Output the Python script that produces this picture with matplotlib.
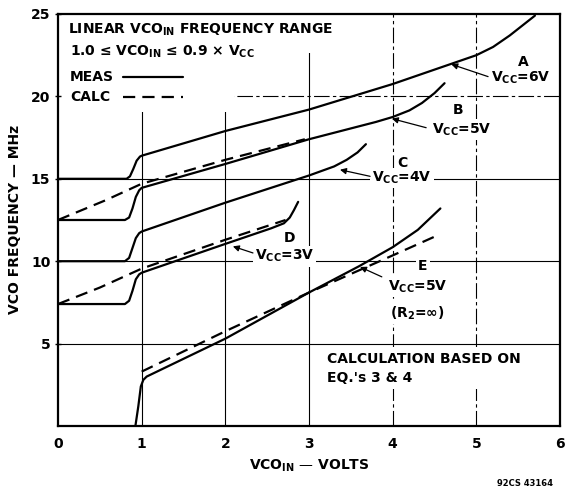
import matplotlib
matplotlib.use("Agg")
import matplotlib.pyplot as plt
from matplotlib.patches import Rectangle

plt.rcParams["font.family"] = ["DejaVu Sans"]
plt.rcParams["font.weight"] = "bold"
plt.rcParams["mathtext.default"] = "bf"

# ---- measured VCO frequency (MHz) vs VCO_IN (V) ----
a_x = [0, 0.82, 0.86, 0.90, 0.94, 0.98, 1.0, 2, 3, 4, 5, 5.2, 5.4, 5.7]
a_y = [15.0, 15.0, 15.15, 15.6, 16.1, 16.35, 16.4, 17.9, 19.2, 20.75, 22.5, 23.0, 23.7, 24.9]

b_x = [0, 0.80, 0.85, 0.89, 0.93, 0.97, 1.0, 2, 3, 3.8, 4.0, 4.2, 4.35, 4.5, 4.62]
b_y = [12.5, 12.5, 12.65, 13.2, 13.9, 14.3, 14.45, 15.9, 17.4, 18.45, 18.75, 19.15, 19.6, 20.2, 20.8]

c_x = [0, 0.80, 0.85, 0.89, 0.93, 0.97, 1.0, 2, 3, 3.3, 3.45, 3.58, 3.68]
c_y = [10.0, 10.0, 10.2, 10.8, 11.4, 11.7, 11.8, 13.55, 15.2, 15.75, 16.15, 16.6, 17.1]

d_x = [0, 0.80, 0.85, 0.89, 0.93, 0.97, 1.0, 2, 2.55, 2.7, 2.77, 2.82, 2.87]
d_y = [7.4, 7.4, 7.6, 8.2, 8.9, 9.2, 9.3, 11.05, 12.0, 12.3, 12.65, 13.1, 13.6]

e_x = [0.925, 0.96, 0.99, 1.02, 1.06, 2, 3, 3.6, 4, 4.3, 4.57]
e_y = [0, 1.2, 2.4, 2.8, 3.0, 5.3, 8.1, 9.7, 10.85, 11.9, 13.2]

# ---- calculated curves (Eq. 3 & 4) ----
bc_x = [0, 0.57, 1, 2, 2.95]
bc_y = [12.5, 13.7, 14.7, 16.15, 17.4]

dc_x = [0, 0.5, 1, 2, 2.72]
dc_y = [7.4, 8.4, 9.55, 11.3, 12.5]

ec_x = [1.0, 2, 3, 4, 4.55]
ec_y = [3.3, 5.75, 8.1, 10.35, 11.6]

x_ticks = [0, 1, 2, 3, 4, 5, 6]
y_ticks = [5, 10, 15, 20, 25]

FS = 10
fig = plt.figure(figsize=(5.67, 4.91), dpi=100)
ax = fig.add_axes([0.1023, 0.1324, 0.8854, 0.8391])
ax.set_xlim(0, 6)
ax.set_ylim(0, 25)

# grid
for gx in [1, 2, 3]:
    ax.axvline(gx, color="black", lw=0.8, zorder=1)
for gx in [4, 5]:
    ax.axvline(gx, color="black", lw=0.8, dashes=(14, 3, 3, 3), zorder=1)
for gy in [5, 10, 15]:
    ax.axhline(gy, color="black", lw=0.8, zorder=1)
ax.axhline(20, color="black", lw=0.8, dashes=(14, 3, 3, 3), zorder=1)

# white area behind the key text
ax.add_patch(Rectangle((0, 0.762), 0.35, 0.238, transform=ax.transAxes,
                       facecolor="white", edgecolor="none", zorder=1.5))
ax.add_patch(Rectangle((0, 0.905), 0.60, 0.095, transform=ax.transAxes,
                       facecolor="white", edgecolor="none", zorder=1.5))

solid = dict(color="black", lw=1.6, solid_capstyle="round", zorder=3)
dash = dict(color="black", lw=1.6, dashes=(5.5, 3.2), zorder=3)
for xs, ys in [(a_x, a_y), (b_x, b_y), (c_x, c_y), (d_x, d_y), (e_x, e_y)]:
    ax.plot(xs, ys, **solid)
for xs, ys in [(bc_x, bc_y), (dc_x, dc_y), (ec_x, ec_y)]:
    ax.plot(xs, ys, **dash)

# key
tb = dict(fontsize=FS, fontweight="bold", transform=ax.transAxes, va="center", zorder=4)
ax.text(0.02, 0.961, "LINEAR VCO$_{IN}$ FREQUENCY RANGE", **tb)
ax.text(0.024, 0.908, "1.0 ≤ VCO$_{IN}$ ≤ 0.9 × V$_{CC}$", **tb)
ax.text(0.024, 0.847, "MEAS", **tb)
ax.text(0.024, 0.799, "CALC", **tb)
ax.plot([0.13, 0.249], [0.847, 0.847], transform=ax.transAxes, **solid)
ax.plot([0.13, 0.249], [0.799, 0.799], transform=ax.transAxes, **dash)

# curve labels
lb = dict(fontsize=FS, fontweight="bold", ha="center", va="center", zorder=4,
          bbox=dict(facecolor="white", edgecolor="none", pad=1.5))
arr = dict(arrowstyle="-|>", color="black", lw=0.9, mutation_scale=9,
           shrinkA=0, shrinkB=0)

ax.text(5.56, 22.1, "A", **lb)
ax.text(5.53, 21.1, "V$_{CC}$=6V", **lb)
ax.annotate("", xy=(4.70, 21.95), xytext=(5.14, 21.2), arrowprops=arr, zorder=4)

ax.text(4.78, 19.2, "B", **lb)
ax.text(4.83, 18.0, "V$_{CC}$=5V", **lb)
ax.annotate("", xy=(3.99, 18.65), xytext=(4.40, 18.1), arrowprops=arr, zorder=4)

ax.text(4.11, 15.95, "C", **lb)
ax.text(4.11, 15.05, "V$_{CC}$=4V", **lb)
ax.annotate("", xy=(3.37, 15.55), xytext=(3.73, 15.15), arrowprops=arr, zorder=4)

ax.text(2.77, 11.4, "D", **lb)
ax.text(2.71, 10.3, "V$_{CC}$=3V", **lb)
ax.annotate("", xy=(2.09, 10.9), xytext=(2.33, 10.5), arrowprops=arr, zorder=4)

ax.text(4.36, 9.7, "E", **lb)
ax.text(4.30, 8.45, "V$_{CC}$=5V", **lb)
ax.text(4.30, 6.85, "(R$_{2}$=∞)", **lb)
ax.annotate("", xy=(3.61, 9.65), xytext=(3.87, 9.05), arrowprops=arr, zorder=4)

ax.text(3.21, 3.5, "CALCULATION BASED ON\nEQ.'s 3 & 4", fontsize=FS,
        fontweight="bold", ha="left", va="center", linespacing=1.5, zorder=4,
        bbox=dict(facecolor="white", edgecolor="none", pad=3))

# axes frame and ticks
for s in ax.spines.values():
    s.set_linewidth(1.6)
ax.set_xticks(x_ticks)
ax.set_yticks(y_ticks)
ax.tick_params(axis="x", length=0, pad=8, labelsize=FS)
ax.tick_params(axis="y", direction="inout", length=5, width=1, pad=3, labelsize=FS)
for t in ax.get_xticklabels() + ax.get_yticklabels():
    t.set_fontweight("bold")

fig.text(15 / 567, 1 - 219 / 491, "VCO FREQUENCY — MHz", rotation=90,
         ha="center", va="center", fontsize=FS, fontweight="bold")
fig.text(309 / 567, 1 - 466 / 491, "VCO$_{IN}$ — VOLTS", ha="center",
         va="center", fontsize=FS, fontweight="bold")
fig.text(553 / 567, 1 - 484 / 491, "92CS 43164", ha="right", va="center",
         fontsize=6, fontweight="bold")

fig.savefig("out.png", dpi=100)
